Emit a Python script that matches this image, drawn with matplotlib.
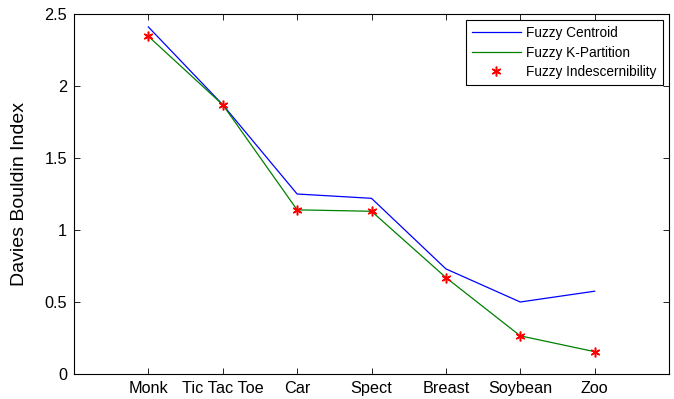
import matplotlib.pyplot as plt

plt.rcParams['font.family'] = ['Liberation Sans', 'DejaVu Sans']

# data
datasets = ['Monk', 'Tic Tac Toe', 'Car', 'Spect', 'Breast', 'Soybean', 'Zoo']
centroid = [2.41, 1.87, 1.25, 1.22, 0.73, 0.50, 0.575]
kpartition = [2.345, 1.87, 1.14, 1.13, 0.67, 0.265, 0.155]
indescern = [2.345, 1.87, 1.14, 1.13, 0.67, 0.265, 0.155]
yticks = [0, 0.5, 1, 1.5, 2, 2.5]

x = list(range(1, len(datasets) + 1))

fig = plt.figure(figsize=(6.74, 3.99), dpi=100)
ax = fig.add_axes([74 / 674, 25 / 399, 595 / 674, 360 / 399])

ax.plot(x, centroid, color='#0000ff', lw=0.9, label='Fuzzy Centroid')
ax.plot(x, kpartition, color='#008000', lw=0.9, label='Fuzzy K-Partition')
# MATLAB-style asterisk marker
ax.plot(x, indescern, ls='none', marker=(6, 2, 0), color='red', ms=7,
        markeredgewidth=1.1, label='Fuzzy Indescernibility')

ax.set_xlim(0, 8)
ax.set_ylim(0, 2.5)
ax.set_xticks(x)
ax.set_xticklabels(datasets)
ax.set_yticks(yticks)
ax.set_yticklabels(['0', '0.5', '1', '1.5', '2', '2.5'])
ax.tick_params(direction='in', top=True, right=True, length=4, width=0.6,
               labelsize=11.7, pad=5)
for s in ax.spines.values():
    s.set_linewidth(0.8)
ax.set_ylabel('Davies Bouldin Index', fontsize=14)
ax.yaxis.set_label_coords(-46 / 595, 0.5)

leg = ax.legend(loc='upper right', fontsize=9.8, fancybox=False,
                edgecolor='black', framealpha=1, borderaxespad=0.45,
                handlelength=3.6, borderpad=0.45, labelspacing=0.4,
                handletextpad=0.4)
leg.get_frame().set_linewidth(0.8)

plt.savefig('out.png', dpi=100)
